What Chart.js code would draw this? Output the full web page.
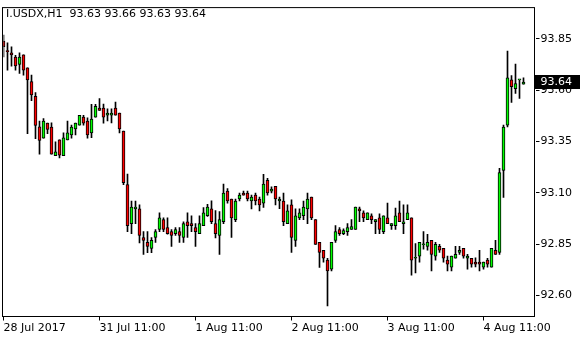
<!DOCTYPE html>
<html>
<head>
<meta charset="UTF-8" />
<script src="https://cdn.jsdelivr.net/npm/chart.js@4.4.0/dist/chart.umd.min.js"></script>
<style>
  html, body { margin: 0; padding: 0; background: #fff; }
  canvas { display: block; }
</style>
</head>
<body>
<canvas id="chart" width="580" height="340"></canvas>
<script>
// I.USDX H1 candles, 28 Jul 11:00 .. 4 Aug 21:00
const open = [
  93.840, 93.792, 93.783, 93.762, 93.726, 93.773, 93.709, 93.642, 93.570, 93.422,
  93.366, 93.440, 93.421, 93.281, 93.358, 93.281, 93.358, 93.382, 93.411, 93.430,
  93.469, 93.450, 93.392, 93.469, 93.513, 93.513, 93.478, 93.478, 93.513, 93.489,
  93.401, 93.140, 92.950, 93.022, 93.022, 92.882, 92.858, 92.829, 92.882, 92.921,
  92.969, 92.930, 92.911, 92.901, 92.911, 92.882, 92.959, 92.950, 92.930, 92.901,
  92.940, 92.988, 93.022, 92.950, 92.892, 92.959, 93.108, 93.070, 92.969, 93.070,
  93.099, 93.099, 93.060, 93.089, 93.070, 93.050, 93.161, 93.108, 93.132, 93.060,
  93.060, 92.950, 93.042, 92.868, 92.978, 92.988, 93.022, 93.079, 92.969, 92.858,
  92.820, 92.772, 92.728, 92.868, 92.921, 92.901, 92.911, 92.921, 92.921, 93.022,
  93.002, 92.969, 92.988, 92.959, 92.978, 92.911, 92.978, 92.940, 92.940, 93.002,
  92.950, 92.969, 92.978, 92.781, 92.791, 92.847, 92.839, 92.868, 92.791, 92.839,
  92.829, 92.772, 92.738, 92.781, 92.810, 92.829, 92.781, 92.781, 92.762, 92.762,
  92.738, 92.772, 92.738, 92.820, 92.810, 93.209, 93.430, 93.651, 93.608, 93.651,
  93.630
];
const high = [
  93.869, 93.831, 93.812, 93.770, 93.783, 93.773, 93.709, 93.674, 93.589, 93.450,
  93.462, 93.440, 93.441, 93.349, 93.358, 93.392, 93.450, 93.430, 93.440, 93.478,
  93.478, 93.465, 93.531, 93.531, 93.560, 93.533, 93.509, 93.509, 93.542, 93.489,
  93.401, 93.191, 93.060, 93.060, 93.041, 92.911, 92.911, 92.882, 92.921, 93.002,
  92.978, 92.978, 92.921, 92.930, 92.930, 92.959, 93.002, 92.988, 92.950, 92.988,
  93.028, 93.044, 93.061, 93.013, 93.009, 93.142, 93.121, 93.070, 93.070, 93.099,
  93.108, 93.108, 93.089, 93.099, 93.079, 93.190, 93.171, 93.129, 93.132, 93.079,
  93.099, 93.041, 93.066, 93.022, 93.022, 93.060, 93.099, 93.079, 92.969, 92.858,
  92.820, 92.781, 92.858, 92.940, 92.930, 92.925, 92.950, 92.969, 93.031, 93.031,
  93.012, 93.002, 92.998, 92.969, 92.998, 92.988, 93.050, 92.950, 93.026, 93.060,
  93.041, 93.041, 92.978, 92.853, 92.858, 92.911, 92.897, 92.868, 92.858, 92.849,
  92.829, 92.791, 92.791, 92.839, 92.839, 92.829, 92.800, 92.781, 92.783, 92.820,
  92.762, 92.781, 92.829, 92.868, 93.219, 93.430, 93.791, 93.671, 93.728, 93.651,
  93.660
];
const low = [
  93.763, 93.698, 93.717, 93.698, 93.682, 93.674, 93.388, 93.549, 93.364, 93.289,
  93.366, 93.388, 93.289, 93.281, 93.270, 93.281, 93.358, 93.366, 93.382, 93.430,
  93.430, 93.366, 93.369, 93.469, 93.502, 93.440, 93.450, 93.441, 93.478, 93.392,
  93.140, 92.910, 92.901, 92.950, 92.856, 92.800, 92.808, 92.808, 92.858, 92.911,
  92.911, 92.898, 92.839, 92.892, 92.858, 92.858, 92.882, 92.911, 92.839, 92.901,
  92.940, 92.985, 92.950, 92.880, 92.800, 92.950, 93.049, 92.882, 92.959, 93.060,
  93.089, 93.060, 93.022, 93.041, 93.012, 93.029, 93.089, 93.099, 93.041, 93.023,
  92.940, 92.950, 92.809, 92.839, 92.969, 92.969, 92.950, 92.969, 92.849, 92.736,
  92.762, 92.549, 92.719, 92.858, 92.892, 92.896, 92.892, 92.921, 92.921, 92.959,
  92.959, 92.969, 92.950, 92.901, 92.901, 92.901, 92.950, 92.921, 92.921, 92.959,
  92.901, 92.969, 92.699, 92.709, 92.762, 92.825, 92.820, 92.719, 92.772, 92.810,
  92.762, 92.719, 92.719, 92.781, 92.800, 92.781, 92.728, 92.738, 92.739, 92.719,
  92.728, 92.738, 92.738, 92.800, 92.800, 93.077, 93.421, 93.541, 93.584, 93.560,
  93.630
];
const close = [
  93.812, 93.788, 93.772, 93.719, 93.762, 93.698, 93.650, 93.577, 93.428, 93.356,
  93.450, 93.409, 93.289, 93.300, 93.284, 93.368, 93.392, 93.421, 93.440, 93.478,
  93.440, 93.382, 93.459, 93.522, 93.502, 93.469, 93.489, 93.489, 93.478, 93.412,
  93.149, 92.940, 93.031, 93.031, 92.892, 92.868, 92.839, 92.868, 92.911, 92.978,
  92.921, 92.901, 92.892, 92.921, 92.892, 92.950, 92.940, 92.940, 92.911, 92.950,
  93.002, 93.031, 92.959, 92.901, 92.969, 93.099, 93.060, 92.978, 93.060, 93.089,
  93.089, 93.070, 93.079, 93.060, 93.041, 93.142, 93.099, 93.118, 93.070, 93.070,
  92.959, 93.012, 92.882, 92.988, 93.002, 93.031, 93.070, 92.978, 92.849, 92.810,
  92.781, 92.719, 92.858, 92.911, 92.901, 92.916, 92.930, 92.935, 93.031, 93.012,
  92.978, 93.002, 92.969, 92.969, 92.921, 92.988, 92.950, 92.950, 92.988, 92.959,
  92.959, 93.002, 92.772, 92.785, 92.858, 92.851, 92.858, 92.800, 92.849, 92.820,
  92.781, 92.752, 92.791, 92.800, 92.820, 92.791, 92.791, 92.752, 92.752, 92.752,
  92.762, 92.752, 92.829, 92.800, 93.199, 93.421, 93.661, 93.618, 93.632, 93.651,
  93.640
];

const tickIndex = [0, 24, 48, 72, 96, 120];
const tickLabels = ['28 Jul 2017', '31 Jul 11:00', '1 Aug 11:00', '2 Aug 11:00', '3 Aug 11:00', '4 Aug 11:00'];
const yTicks = [92.60, 92.85, 93.10, 93.35, 93.60, 93.85];
const header = 'I.USDX,H1  93.63 93.66 93.63 93.64';
const lastPrice = 93.64;
const emptySlots = 3; // chart shift on the right

const labels = [];
for (let i = 0; i < open.length + emptySlots; i++) labels.push(String(i));

const wicks = low.map((l, i) => [l, high[i]]);
const bodies = open.map((o, i) => [Math.min(o, close[i]), Math.max(o, close[i])]);
const bodyColors = open.map((o, i) => close[i] >= o ? '#00ff00' : '#ff0000');

Chart.defaults.font.family = 'DejaVu Sans';
Chart.defaults.font.size = 11;
Chart.defaults.color = '#000';

const frame = {
  id: 'frame',
  afterDraw(chart) {
    const { ctx, chartArea: a } = chart;
    const y = chart.scales.y;
    ctx.save();
    ctx.strokeStyle = '#000';
    ctx.lineWidth = 1;
    ctx.strokeRect(2.5, a.top, 532, a.bottom - a.top);
    ctx.font = '11px "DejaVu Sans"';
    ctx.fillStyle = '#000';
    ctx.textBaseline = 'alphabetic';
    ctx.fillText(header, 6, 16.5);
    // current price label
    const py = Math.round(y.getPixelForValue(lastPrice));
    ctx.fillRect(535, py - 7, 45, 14);
    ctx.fillStyle = '#fff';
    ctx.textBaseline = 'middle';
    ctx.fillText(lastPrice.toFixed(2), 540.5, py + 0.5);
    ctx.restore();
  }
};

new Chart(document.getElementById('chart'), {
  type: 'bar',
  data: {
    labels: labels,
    datasets: [
      {
        data: bodies,
        backgroundColor: bodyColors,
        borderColor: '#000',
        borderWidth: 1,
        borderSkipped: false,
        barThickness: 3,
        minBarLength: 1,
        grouped: false,
        order: 0
      },
      {
        data: wicks,
        backgroundColor: '#000',
        borderWidth: 0,
        barThickness: 1,
        grouped: false,
        order: 1
      }
    ]
  },
  options: {
    responsive: false,
    animation: false,
    devicePixelRatio: 1,
    layout: { padding: { left: 3.5, top: 2.5, right: 0, bottom: 0 } },
    plugins: { legend: { display: false }, tooltip: { enabled: false } },
    scales: {
      x: {
        offset: false,
        border: { display: false },
        grid: {
          offset: false,
          drawOnChartArea: false,
          drawTicks: true,
          tickLength: 4,
          color: (c) => tickIndex.includes(c.index) ? '#000' : 'rgba(0,0,0,0)'
        },
        ticks: {
          autoSkip: false,
          maxRotation: 0,
          align: 'start',
          padding: 1,
          callback: (v, i) => {
            const k = tickIndex.indexOf(i);
            return k >= 0 ? tickLabels[k] : '';
          }
        },
        afterFit: (s) => { s.height = 23.5; }
      },
      y: {
        position: 'right',
        min: 92.497,
        max: 94.003,
        border: { display: false },
        grid: { drawOnChartArea: false, drawTicks: true, tickLength: 4, color: '#000' },
        ticks: { padding: 1, callback: (v) => Number(v).toFixed(2) },
        afterBuildTicks: (s) => { s.ticks = yTicks.map(v => ({ value: v })); },
        afterFit: (s) => { s.width = 44.5; }
      }
    }
  },
  plugins: [frame]
});
</script>
</body>
</html>
